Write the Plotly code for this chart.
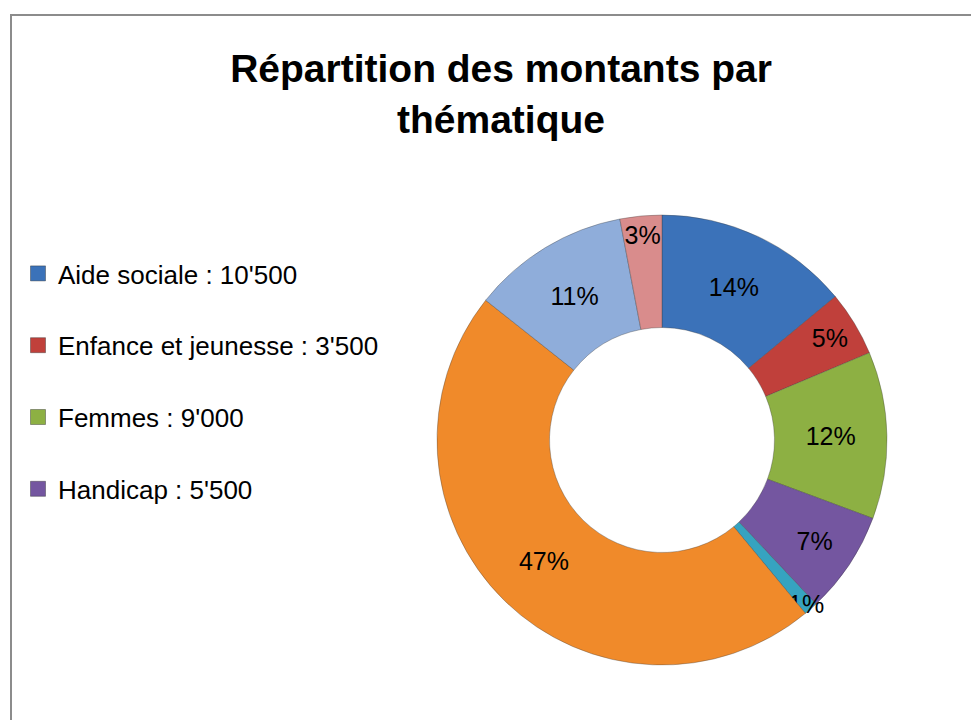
import plotly.graph_objects as go

# ----------------------------------------------------------------------------- data

categories = [
    "Aide sociale",
    "Enfance et jeunesse",
    "Femmes",
    "Handicap",
    "Catégorie 5",
    "Catégorie 6",
    "Catégorie 7",
    "Catégorie 8",
]
amounts = [10500, 3500, 9000, 5500, 750, 35000, 8500, 2250]
colors = [
    "#3b72b9",
    "#c0403b",
    "#8db043",
    "#7456a0",
    "#36a3c0",
    "#f08a2a",
    "#8fadda",
    "#d98c8c",
]
# Excel n'affiche que les 4 premières entrées dans la légende
n_legend = 4

FONT = "Liberation Sans, Arial, sans-serif"
# la page HTML a une marge de 8 px : on travaille en coordonnées page - 8
OFF = 8
W, H = 979 - OFF, 720 - OFF


def px_x(x):
    return (x - OFF) / W


def px_y(y):
    return 1 - (y - OFF) / H


def fmt_ch(v):
    """10500 -> 10'500"""
    return f"{v:,}".replace(",", "'")


# ----------------------------------------------------------------------------- figure

fig = go.Figure()

# donut : centre (662, 440), rayon 225 px (coordonnées écran)
cx, cy, r = 662, 440, 225
fig.add_trace(
    go.Pie(
        labels=categories,
        values=amounts,
        hole=0.5,
        sort=False,
        direction="clockwise",
        rotation=0,
        marker=dict(colors=colors, line=dict(color="rgba(60,60,60,0.35)", width=1)),
        texttemplate="%{percent:.0%}",
        textposition="inside",
        insidetextorientation="horizontal",
        textfont=dict(family=FONT, size=25, color="black"),
        domain=dict(x=[px_x(cx - r), px_x(cx + r)], y=[px_y(cy + r), px_y(cy - r)]),
        showlegend=False,
    )
)

# légende manuelle (seulement les 4 premières catégories)
for i in range(n_legend):
    fig.add_trace(
        go.Scatter(
            x=[None],
            y=[None],
            mode="markers",
            marker=dict(symbol="square", size=15, color=colors[i],
                        line=dict(color="rgba(40,40,40,0.4)", width=1)),
            name=f"{categories[i]} : {fmt_ch(amounts[i])}",
            legendgroup=f"g{i}",
        )
    )

fig.update_layout(
    width=W,
    height=H,
    paper_bgcolor="white",
    plot_bgcolor="white",
    margin=dict(l=0, r=0, t=0, b=0),
    title=dict(
        text="<b>Répartition des montants par<br>thématique</b>",
        x=px_x(501),
        xanchor="center",
        y=px_y(82),
        yanchor="top",
        font=dict(family=FONT, size=39, color="black"),
    ),
    legend=dict(
        x=px_x(18),
        xanchor="left",
        y=px_y(250),
        yanchor="top",
        font=dict(family=FONT, size=26, color="black"),
        tracegroupgap=35,
        itemwidth=30,
        bgcolor="rgba(0,0,0,0)",
    ),
    xaxis=dict(visible=False),
    yaxis=dict(visible=False),
    uniformtext=dict(minsize=25, mode="show"),
    shapes=[
        dict(
            type="rect",
            xref="paper",
            yref="paper",
            x0=px_x(11),
            x1=1.05,
            y0=-0.05,
            y1=px_y(15),
            line=dict(color="#8c8c8c", width=2),
            layer="below",
        )
    ],
)

fig.write_html("out.html")
